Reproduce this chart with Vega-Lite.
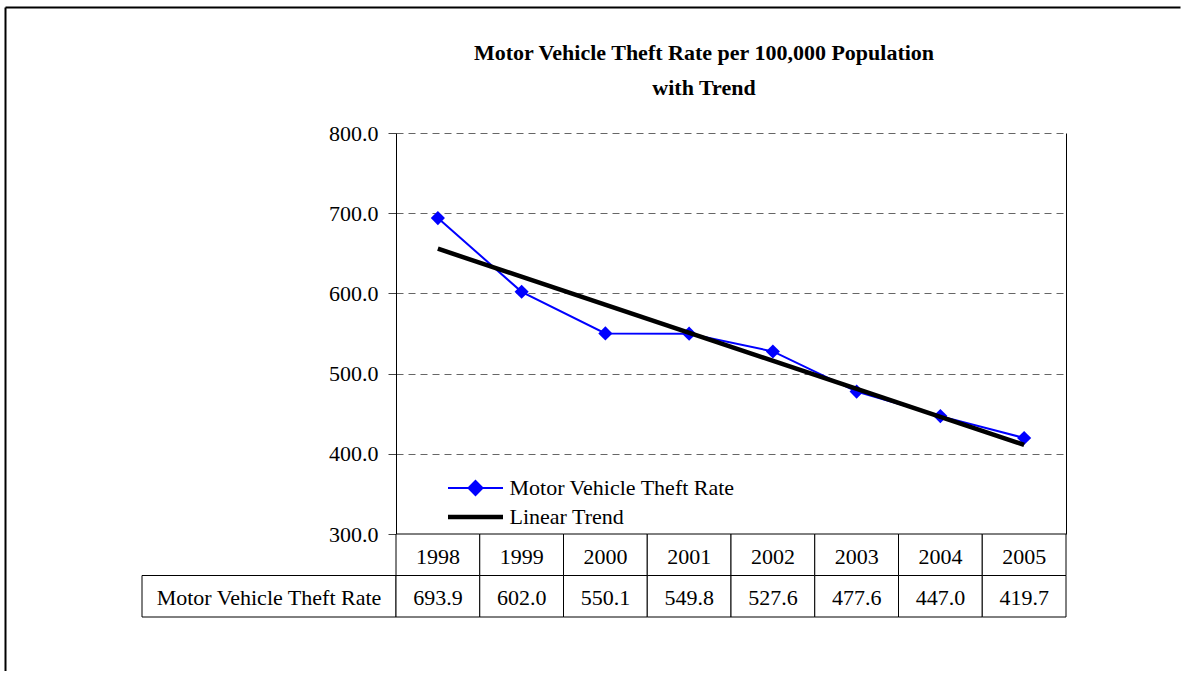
{
  "$schema": "https://vega.github.io/schema/vega-lite/v6.json",
  "padding": {"left": 4, "top": 6, "right": 0, "bottom": 0},
  "background": "white",
  "config": {
    "view": {"stroke": null},
    "font": "Liberation Serif",
    "text": {"font": "Liberation Serif", "fontSize": 22, "color": "black", "dy": 2}
  },
  "datasets": {
    "theft": [
      {"year": 1998, "rate": 693.9},
      {"year": 1999, "rate": 602.0},
      {"year": 2000, "rate": 550.1},
      {"year": 2001, "rate": 549.8},
      {"year": 2002, "rate": 527.6},
      {"year": 2003, "rate": 477.6},
      {"year": 2004, "rate": 447.0},
      {"year": 2005, "rate": 419.7}
    ]
  },
  "bounds": "flush",
  "align": "none",
  "spacing": -538,
  "vconcat": [
    {
      "width": 1,
      "height": 664,
      "data": {"values": []},
      "mark": {"type": "point", "opacity": 0},
      "encoding": {
        "y": {
          "field": "v",
          "type": "quantitative",
          "scale": {"domain": [0, 1]},
          "axis": {
            "orient": "left",
            "offset": 137,
            "values": [1],
            "tickSize": -1175,
            "tickWidth": 2,
            "tickColor": "black",
            "domainColor": "black",
            "domainWidth": 2,
            "labels": false,
            "title": null,
            "grid": false
          }
        }
      }
    },
    {
      "columns": 2,
      "spacing": 0,
      "bounds": "flush",
      "concat": [
        {
          "width": 254,
          "height": 401,
          "data": {"values": []},
          "mark": {"type": "point", "opacity": 0}
        },
        {
          "width": 670,
          "height": 401,
          "data": {"name": "theft"},
          "title": {
            "text": ["Motor Vehicle Theft Rate per 100,000 Population", "with Trend"],
            "font": "Liberation Serif",
            "fontSize": 22,
            "fontWeight": "bold",
            "color": "black",
            "anchor": "middle",
            "frame": "group",
            "dx": -27,
            "lineHeight": 35,
            "offset": 22
          },
          "layer": [
            {
              "mark": {
                "type": "line",
                "strokeWidth": 2,
                "point": {"shape": "diamond", "size": 200, "filled": true, "opacity": 1}
              },
              "encoding": {
                "x": {"field": "year", "type": "ordinal", "axis": null},
                "y": {
                  "field": "rate",
                  "type": "quantitative",
                  "scale": {"domain": [300, 800]},
                  "axis": {
                    "orient": "left",
                    "values": [300, 400, 500, 600, 700, 800],
                    "format": ".1f",
                    "title": null,
                    "grid": true,
                    "gridColor": "#666666",
                    "gridDash": [7, 5],
                    "gridWidth": 1,
                    "domainColor": "black",
                    "domainWidth": 1,
                    "tickColor": "#444444",
                    "tickSize": 8,
                    "labelFont": "Liberation Serif",
                    "labelFontSize": 22,
                    "labelColor": "black",
                    "labelPadding": 10
                  }
                },
                "color": {
                  "datum": "Motor Vehicle Theft Rate",
                  "type": "nominal",
                  "scale": {
                    "domain": ["Motor Vehicle Theft Rate", "Linear Trend"],
                    "range": ["#0000ff", "#000000"]
                  },
                  "legend": {
                    "orient": "none",
                    "legendX": 305,
                    "legendY": 470,
                    "title": null,
                    "padding": 0,
                    "labelFont": "Liberation Serif",
                    "labelFontSize": 22,
                    "labelColor": "black",
                    "labelLimit": 400,
                    "symbolSize": 400,
                    "symbolOffset": 17.5,
                    "labelOffset": 23,
                    "rowPadding": 7,
                    "encode": {
                      "symbols": {
                        "update": {
                          "shape": {"signal": "datum.value == 'Linear Trend' ? 'M-2.75,0H2.75' : 'M-2.75,0H2.75M0,-0.7L0.7,0L0,0.7L-0.7,0Z'"},
                          "strokeWidth": {"signal": "datum.value == 'Linear Trend' ? 4.5 : 2"},
                          "stroke": {"signal": "datum.value == 'Linear Trend' ? '#000000' : '#0000ff'"},
                          "fill": {"signal": "datum.value == 'Linear Trend' ? '#000000' : '#0000ff'"},
                          "opacity": {"value": 1}
                        }
                      }
                    }
                  }
                }
              }
            },
            {
              "transform": [{"regression": "rate", "on": "year"}],
              "mark": {"type": "line", "strokeWidth": 4.5},
              "encoding": {
                "x": {"field": "year", "type": "ordinal", "axis": null},
                "y": {
                  "field": "rate",
                  "type": "quantitative",
                  "axis": {
                    "orient": "right",
                    "labels": false,
                    "ticks": false,
                    "grid": false,
                    "title": null,
                    "domainColor": "black",
                    "domainWidth": 1
                  }
                },
                "color": {"datum": "Linear Trend", "type": "nominal"}
              }
            }
          ],
          "resolve": {"axis": {"y": "independent"}}
        },
        {
          "width": 254,
          "height": 83,
          "data": {"values": [{"row": "Motor Vehicle Theft Rate"}]},
          "encoding": {
            "y": {
              "field": "row",
              "type": "nominal",
              "scale": {"domain": ["Year", "Motor Vehicle Theft Rate"], "paddingInner": 0, "paddingOuter": 0},
              "axis": null
            }
          },
          "layer": [
            {"mark": {"type": "rect", "fill": "white", "stroke": "black", "strokeWidth": 1}},
            {"mark": {"type": "text"}, "encoding": {"text": {"field": "row", "type": "nominal"}}}
          ]
        },
        {
          "width": 670,
          "height": 83,
          "data": {"name": "theft"},
          "encoding": {
            "x": {
              "field": "year",
              "type": "ordinal",
              "scale": {"paddingInner": 0, "paddingOuter": 0},
              "axis": null
            }
          },
          "layer": [
            {
              "mark": {"type": "rect", "fill": "white", "stroke": "black", "strokeWidth": 1},
              "encoding": {
                "y": {
                  "datum": "Year",
                  "type": "nominal",
                  "scale": {"domain": ["Year", "Motor Vehicle Theft Rate"], "paddingInner": 0, "paddingOuter": 0},
                  "axis": null
                }
              }
            },
            {
              "mark": {"type": "rect", "fill": "white", "stroke": "black", "strokeWidth": 1},
              "encoding": {"y": {"datum": "Motor Vehicle Theft Rate", "type": "nominal"}}
            },
            {
              "mark": {"type": "text"},
              "encoding": {
                "y": {"datum": "Year", "type": "nominal"},
                "text": {"field": "year", "type": "ordinal"}
              }
            },
            {
              "mark": {"type": "text"},
              "encoding": {
                "y": {"datum": "Motor Vehicle Theft Rate", "type": "nominal"},
                "text": {"field": "rate", "type": "quantitative", "format": ".1f"}
              }
            }
          ]
        }
      ]
    }
  ]
}
